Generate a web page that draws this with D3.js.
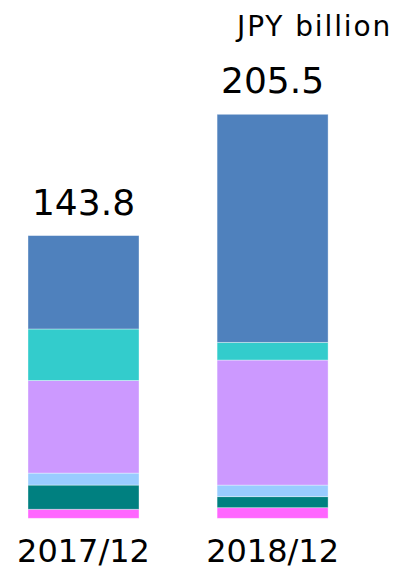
<!DOCTYPE html>
<html>
<head>
<meta charset="utf-8">
<script src="https://cdn.jsdelivr.net/npm/d3@7/dist/d3.min.js"></script>
<style>
  html, body { margin: 0; padding: 0; background: #fff; }
  svg { display: block; }
  text { font-family: "DejaVu Sans", Verdana, sans-serif; fill: #000; }
</style>
</head>
<body>
<svg id="chart" width="397" height="570"></svg>
<script>
// Data (JPY billion)
const categories = ["2017/12", "2018/12"];
const seriesNames = ["Segment 1", "Segment 2", "Segment 3", "Segment 4", "Segment 5", "Segment 6"]; // bottom to top
const seriesColors = ["#FF66FF", "#008080", "#99CCFF", "#CC99FF", "#33CCCC", "#4F81BD"];
const values2017 = [4.6, 12.3, 6.1, 47.1, 26.2, 47.5];
const values2018 = [5.4, 5.6, 5.9, 63.6, 9.0, 116.0];
const totals = [143.8, 205.5];
const unitLabel = "JPY billion";

const svg = d3.select("#chart");

const rows = categories.map((c, i) => {
  const vals = i === 0 ? values2017 : values2018;
  const r = { category: c };
  seriesNames.forEach((s, j) => r[s] = vals[j]);
  return r;
});

const stack = d3.stack().keys(seriesNames);
const stacked = stack(rows);

const x = d3.scaleBand()
  .domain(categories)
  .range([9.1, 347])
  .paddingInner(0.413)
  .paddingOuter(0.1);

const y = d3.scaleLinear()
  .domain([0, 205.5])
  .range([518.3, 114.3]);

const color = d3.scaleOrdinal().domain(seriesNames).range(seriesColors);

svg.append("g")
  .selectAll("g")
  .data(stacked)
  .join("g")
  .attr("fill", d => color(d.key))
  .selectAll("rect")
  .data(d => d)
  .join("rect")
  .attr("x", d => x(d.data.category))
  .attr("width", x.bandwidth())
  .attr("y", d => y(d[1]))
  .attr("height", d => y(d[0]) - y(d[1]))
  .attr("stroke", "rgba(255,255,255,0.45)")
  .attr("stroke-width", 0.8);

// Totals
svg.append("g")
  .selectAll("text")
  .data(categories)
  .join("text")
  .attr("x", d => x(d) + x.bandwidth() / 2)
  .attr("y", (d, i) => y(totals[i]) - 21)
  .attr("text-anchor", "middle")
  .style("font-size", "36px")
  .text((d, i) => totals[i].toFixed(1));

// Category axis labels
const xAxis = d3.axisBottom(x).tickSize(0).tickPadding(0);
const gx = svg.append("g").attr("transform", "translate(0,518.3)").call(xAxis);
gx.select(".domain").remove();
gx.selectAll("text")
  .attr("y", 44)
  .attr("dy", null)
  .style("font-size", "32px")
  .style("font-family", '"DejaVu Sans", Verdana, sans-serif')
  .attr("fill", "#000");

// Unit label
svg.append("text")
  .attr("x", 237)
  .attr("y", 36)
  .attr("text-anchor", "start")
  .style("font-size", "28px")
  .style("letter-spacing", "1.9px")
  .text(unitLabel);
</script>
</body>
</html>
